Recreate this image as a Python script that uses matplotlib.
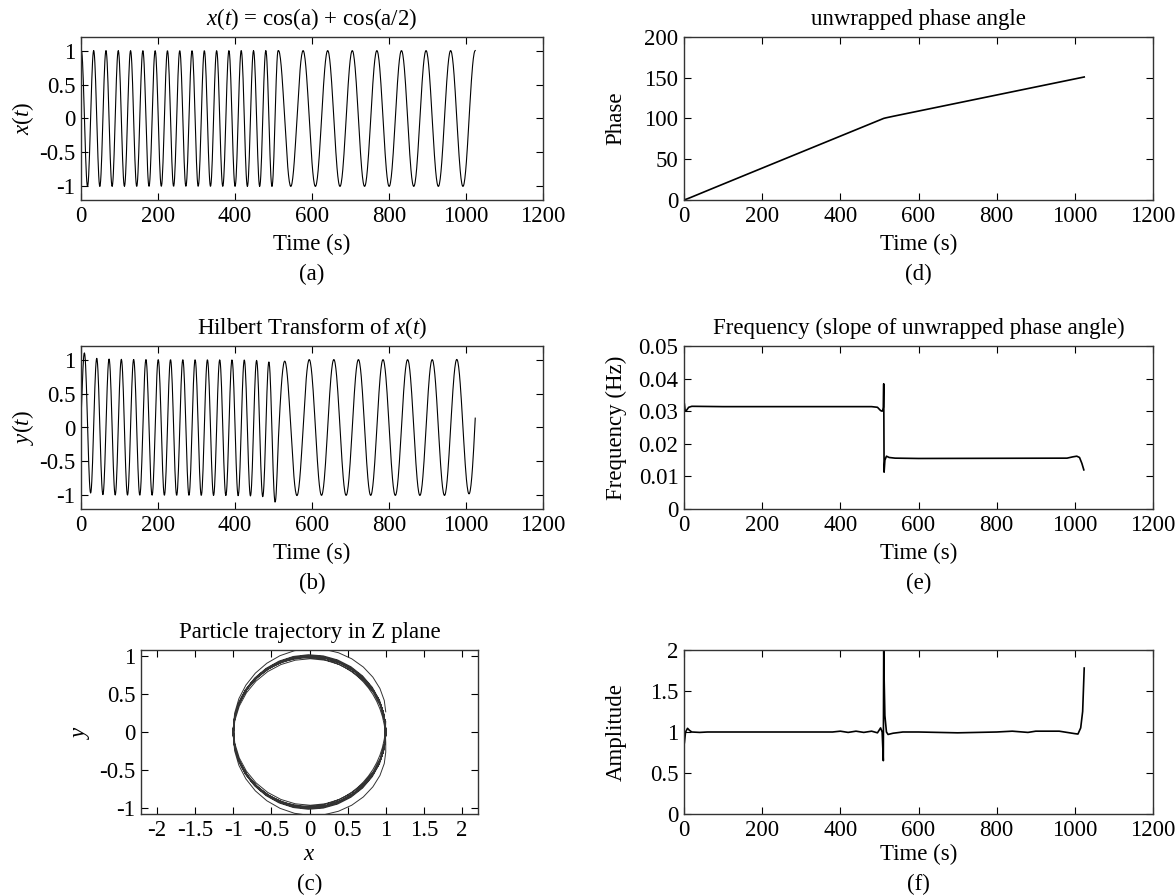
import numpy as np
import matplotlib
matplotlib.use('Agg')
import matplotlib.pyplot as plt
from matplotlib.ticker import FuncFormatter

# signal description: two halves of 512 samples, the second at half the frequency
half = 512
cycles_first_half = 16

# instantaneous frequency
freq_t = [1, 3, 6, 12, 20, 100, 480, 495, 503, 507, 509, 510, 511, 512, 514,
          518, 525, 540, 600, 980, 995, 1005, 1012, 1018, 1023]
freq_hz = [0.0322, 0.0300, 0.0302, 0.0312, 0.0315, 0.0314, 0.0314, 0.0312, 0.0302,
           0.0300, 0.0305, 0.0312, 0.0384, 0.0113, 0.0150, 0.0162, 0.0158, 0.0156,
           0.0155, 0.0156, 0.0160, 0.0162, 0.0158, 0.0140, 0.0120]

# envelope
amp_t = [1, 4, 9, 14, 20, 40, 60, 100, 140, 380, 400, 420, 440, 460, 480, 495,
         503, 507, 510, 511, 512, 514, 518, 522, 535, 560, 600, 700, 800, 840,
         880, 900, 960, 1000, 1008, 1015, 1020, 1024]
amp_v = [0.87, 1.00, 1.045, 1.02, 1.0, 0.995, 1.0, 1.0, 1.0, 1.0, 1.01, 0.995,
         1.01, 0.995, 1.01, 0.99, 1.05, 1.0, 0.65, 2.05, 1.67, 1.2, 1.0, 0.97,
         0.985, 1.0, 1.0, 0.99, 1.0, 1.01, 0.995, 1.01, 1.01, 0.98, 0.975, 1.05,
         1.25, 1.78]

plt.rcParams['font.family'] = ['Liberation Serif', 'DejaVu Serif']
plt.rcParams['mathtext.fontset'] = 'custom'
plt.rcParams['mathtext.rm'] = 'Liberation Serif'
plt.rcParams['mathtext.it'] = 'Liberation Serif:italic'
plt.rcParams['axes.unicode_minus'] = False

FS = 16.5

a = np.linspace(0, 2 * np.pi * cycles_first_half, half)
x = np.concatenate([np.cos(a), np.cos(a / 2)])
n_samples = len(x)
t = np.arange(1, n_samples + 1)

# analytic signal (same recipe as matlab hilbert)
X = np.fft.fft(x)
h = np.zeros(n_samples)
h[0] = 1
h[1:n_samples // 2] = 2
h[n_samples // 2] = 1
z = np.fft.ifft(X * h)
y = z.imag
phase = np.unwrap(np.angle(z))

W, H = 1175, 896
fig = plt.figure(figsize=(W / 100, H / 100), dpi=100)


def box(left, right, top, bottom):
    return fig.add_axes([left / W, 1 - bottom / H, (right - left) / W, (bottom - top) / H])


fmt = FuncFormatter(lambda v, p: '%g' % v)


def style(ax, xlab, ylab, letter, ylab_off, xl_off=44, lt_off=74):
    ax.tick_params(direction='in', top=True, right=True, length=5, width=0.8,
                   labelsize=FS, pad=4)
    for s in ax.spines.values():
        s.set_linewidth(1.0)
        s.set_color('0.2')
    ax.xaxis.set_major_formatter(fmt)
    ax.yaxis.set_major_formatter(fmt)
    hpx = ax.get_position().height * H
    wpx = ax.get_position().width * W
    if xlab:
        ax.set_xlabel(xlab, fontsize=FS)
        ax.xaxis.set_label_coords(0.5, -xl_off / hpx)
        ax.xaxis.label.set_va('center')
    ax.set_ylabel(ylab, fontsize=FS)
    ax.yaxis.set_label_coords(-ylab_off / wpx, 0.5)
    ax.yaxis.label.set_va('center')
    ax.text(0.5, -lt_off / hpx, letter, transform=ax.transAxes, ha='center', va='center',
            fontsize=FS)


def title(ax, s):
    hpx = ax.get_position().height * H
    ax.text(0.5, 1 + 18 / hpx, s, transform=ax.transAxes, ha='center', va='center',
            fontsize=FS)


rows = [(37, 200), (346, 509), (650, 814)]
time_ticks = np.arange(0, 1201, 200)

# (a)
ax = box(81, 543, *rows[0])
ax.plot(t, x, color='k', lw=0.8)
ax.set_xlim(0, 1200)
ax.set_ylim(-1.2, 1.2)
ax.set_xticks(time_ticks)
ax.set_yticks([-1, -0.5, 0, 0.5, 1])
title(ax, r'$x$($t$) = cos(a) + cos(a/2)')
style(ax, 'Time (s)', r'$x$($t$)', '(a)', 58)

# (b)
ax = box(81, 543, *rows[1])
ax.plot(t, y, color='k', lw=0.8)
ax.set_xlim(0, 1200)
ax.set_ylim(-1.2, 1.2)
ax.set_xticks(time_ticks)
ax.set_yticks([-1, -0.5, 0, 0.5, 1])
title(ax, r'Hilbert Transform of $x$($t$)')
style(ax, 'Time (s)', r'$y$($t$)', '(b)', 58)

# (c)
ax = box(141, 478, *rows[2])
ax.plot(x, y, color='0.2', lw=0.7)
ax.set_xlim(-2.21, 2.21)
ax.set_ylim(-1.08, 1.08)
ax.set_xticks(np.arange(-2, 2.01, 0.5))
ax.set_yticks([-1, -0.5, 0, 0.5, 1])
title(ax, 'Particle trajectory in Z plane')
style(ax, r'$x$', r'$y$', '(c)', 60, 40, 70)

# (d)
ax = box(684, 1153, *rows[0])
ax.plot(t, phase, color='k', lw=1.2)
ax.set_xlim(0, 1200)
ax.set_ylim(0, 200)
ax.set_xticks(time_ticks)
ax.set_yticks(np.arange(0, 201, 50))
title(ax, 'unwrapped phase angle')
style(ax, 'Time (s)', 'Phase', '(d)', 68)

# (e)
ax = box(684, 1153, *rows[1])
ax.plot(freq_t, freq_hz, color='k', lw=1.2)
ax.set_xlim(0, 1200)
ax.set_ylim(0, 0.05)
ax.set_xticks(time_ticks)
ax.set_yticks(np.arange(0, 0.051, 0.01))
title(ax, 'Frequency (slope of unwrapped phase angle)')
style(ax, 'Time (s)', 'Frequency (Hz)', '(e)', 68)

# (f)
ax = box(684, 1153, *rows[2])
ax.plot(amp_t, amp_v, color='k', lw=1.2)
ax.set_xlim(0, 1200)
ax.set_ylim(0, 2)
ax.set_xticks(time_ticks)
ax.set_yticks(np.arange(0, 2.01, 0.5))
style(ax, 'Time (s)', 'Amplitude', '(f)', 68, 40, 70)

fig.savefig('out.png', dpi=100)
